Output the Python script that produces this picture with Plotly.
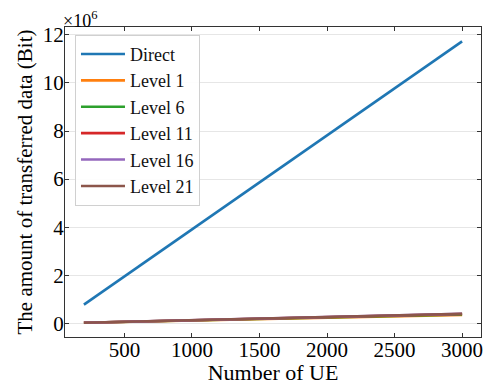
import plotly.graph_objects as go

ue = [200, 400, 600, 800, 1000, 1200, 1400, 1600, 1800, 2000, 2200, 2400, 2600, 2800, 3000]
direct = [0.78e6, 1.56e6, 2.35e6, 3.13e6, 3.91e6, 4.69e6, 5.47e6, 6.26e6, 7.04e6, 7.82e6,
          8.60e6, 9.38e6, 10.17e6, 10.95e6, 11.73e6]
level1 = [0.02e6, 0.045e6, 0.07e6, 0.095e6, 0.12e6, 0.14e6, 0.165e6, 0.19e6, 0.21e6, 0.235e6,
          0.26e6, 0.28e6, 0.305e6, 0.33e6, 0.35e6]
level6 = [0.022e6, 0.048e6, 0.074e6, 0.1e6, 0.125e6, 0.148e6, 0.173e6, 0.198e6, 0.222e6, 0.247e6,
          0.272e6, 0.296e6, 0.32e6, 0.345e6, 0.37e6]
level11 = [0.024e6, 0.05e6, 0.077e6, 0.103e6, 0.13e6, 0.155e6, 0.18e6, 0.206e6, 0.232e6, 0.258e6,
           0.284e6, 0.31e6, 0.335e6, 0.36e6, 0.385e6]
level16 = [0.025e6, 0.052e6, 0.079e6, 0.106e6, 0.133e6, 0.159e6, 0.186e6, 0.212e6, 0.239e6, 0.265e6,
           0.292e6, 0.318e6, 0.345e6, 0.371e6, 0.395e6]
level21 = [0.026e6, 0.053e6, 0.08e6, 0.108e6, 0.135e6, 0.162e6, 0.189e6, 0.216e6, 0.243e6, 0.27e6,
           0.297e6, 0.324e6, 0.351e6, 0.378e6, 0.40e6]

names = ["Direct", "Level 1", "Level 6", "Level 11", "Level 16", "Level 21"]
series = [direct, level1, level6, level11, level16, level21]
colors = ["#1f77b4", "#ff7f0e", "#2ca02c", "#d62728", "#9467bd", "#8c564b"]

ytick_vals = [0, 2e6, 4e6, 6e6, 8e6, 10e6, 12e6]
ytick_text = ["0", "2", "4", "6", "8", "10", "12"]
xtick_vals = [500, 1000, 1500, 2000, 2500, 3000]

fig = go.Figure()
for n, s, c in zip(names, series, colors):
    fig.add_trace(go.Scatter(x=ue, y=s, name=n, mode="lines",
                             line=dict(color=c, width=2.6)))

font = "Liberation Serif"
fig.update_layout(
    width=492, height=385,
    margin=dict(l=65, r=11, t=27, b=48),
    paper_bgcolor="white", plot_bgcolor="white",
    font=dict(family=font, size=21, color="black"),
    showlegend=True,
    legend=dict(x=0.024, y=0.975, xanchor="left", yanchor="top",
                bgcolor="rgba(255,255,255,0.9)", bordercolor="#d0d0d0", borderwidth=1,
                font=dict(family=font, size=18, color="#111111"),
                tracegroupgap=0, itemwidth=44),
    xaxis=dict(range=[60, 3140], tickvals=xtick_vals, ticks="inside", ticklen=4,
               tickcolor="#333", showline=True, linecolor="#333", linewidth=1, mirror="allticks",
               showgrid=False, zeroline=False, automargin=False, ticklabelstandoff=-6,
               title=dict(text="Number of UE", font=dict(family=font, size=22), standoff=2),
               tickfont=dict(family=font, size=21)),
    yaxis=dict(range=[-0.57e6, 12.33e6], tickvals=ytick_vals, ticktext=ytick_text,
               ticks="inside", ticklen=4, tickcolor="#333",
               showline=True, linecolor="#333", linewidth=1, mirror="allticks",
               showgrid=True, gridcolor="#e6e6e6", gridwidth=1, zeroline=False, automargin=False,
               ticklabelstandoff=-4,
               title=dict(text="The amount of transferred data (Bit)",
                          font=dict(family=font, size=21), standoff=4),
               tickfont=dict(family=font, size=21)),
)
fig.add_annotation(xref="paper", yref="paper", x=0, y=1, xanchor="left", yanchor="bottom",
                   text="×10<sup>6</sup>", showarrow=False,
                   font=dict(family=font, size=18, color="black"), xshift=-4, yshift=-6)

fig.write_html("out.html", config={"displayModeBar": False},
               post_script="document.body.style.margin='0';")
